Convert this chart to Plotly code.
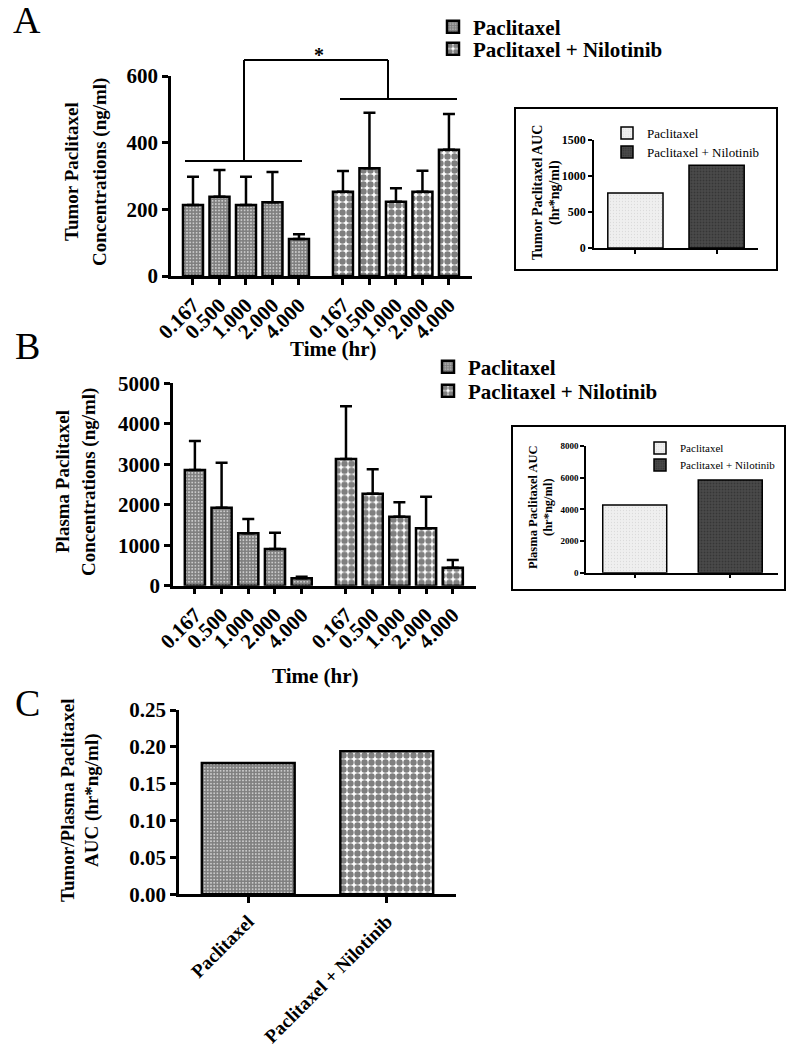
import plotly.graph_objects as go

W, H = 786, 1049
FONT = "Liberation Serif"

# ---------------- data ----------------
TIMES = ["0.167", "0.500", "1.000", "2.000", "4.000"]
GROUPS = ["Paclitaxel", "Paclitaxel + Nilotinib"]

A_PAC_MEAN = [213, 238, 213, 221, 111]
A_PAC_SD = [85, 80, 85, 91, 14]
A_NIL_MEAN = [253, 323, 223, 253, 379]
A_NIL_SD = [62, 167, 40, 63, 107]

B_PAC_MEAN = [2857, 1926, 1294, 906, 183]
B_PAC_SD = [716, 1111, 353, 403, 39]
B_NIL_MEAN = [3128, 2272, 1704, 1417, 444]
B_NIL_SD = [1302, 602, 355, 781, 191]

TUMOR_AUC = [765, 1150]
PLASMA_AUC = [4275, 5853]
RATIO_AUC = [0.178, 0.194]

A_YTICKS = [0, 200, 400, 600]
B_YTICKS = [0, 1000, 2000, 3000, 4000, 5000]
TA_YTICKS = [0, 500, 1000, 1500]
PA_YTICKS = [0, 2000, 4000, 6000, 8000]
C_YTICKS = [0.0, 0.05, 0.10, 0.15, 0.20, 0.25]
C_YTEXT = ["0.00", "0.05", "0.10", "0.15", "0.20", "0.25"]

# ---------------- layout helpers ----------------
GROUP_OFFSET = 5.66
BARW = 0.755


def fx(px):
    return px / W


def fy(py):
    return 1 - py / H


pos_pac = [i for i in range(len(TIMES))]
pos_nil = [i + GROUP_OFFSET for i in range(len(TIMES))]
time_pos = pos_pac + pos_nil
time_text = TIMES + TIMES
grp_pos = list(range(len(GROUPS)))

FINE = dict(shape=".", size=3.2, solidity=0.8, fgcolor="black", bgcolor="white")
COARSE = dict(shape=".", size=7, solidity=0.65, fgcolor="black", bgcolor="white")
LIGHT = dict(shape=".", size=3, solidity=0.15, fgcolor="#c8c8c8", bgcolor="#efefef")
DARK = dict(shape=".", size=3, solidity=0.3, fgcolor="#222222", bgcolor="#4a4a4a")

LINE = dict(color="black", width=2.5)


def err(sd):
    return dict(type="data", array=sd, arrayminus=[0] * len(sd), symmetric=False,
                color="black", thickness=2.5, width=6)


fig = go.Figure()

# Panel A
fig.add_trace(go.Bar(x=pos_pac, y=A_PAC_MEAN, width=BARW, name=GROUPS[0],
                     marker=dict(color="white", line=LINE, pattern=FINE),
                     error_y=err(A_PAC_SD), xaxis="x", yaxis="y", legend="legend"))
fig.add_trace(go.Bar(x=pos_nil, y=A_NIL_MEAN, width=BARW, name=GROUPS[1],
                     marker=dict(color="white", line=LINE, pattern=COARSE),
                     error_y=err(A_NIL_SD), xaxis="x", yaxis="y", legend="legend2"))
# Inset A
fig.add_trace(go.Bar(x=[grp_pos[0]], y=[TUMOR_AUC[0]], width=0.68, name=GROUPS[0],
                     marker=dict(color="#efefef", line=dict(color="black", width=1.5), pattern=LIGHT),
                     xaxis="x2", yaxis="y2", legend="legend5"))
fig.add_trace(go.Bar(x=[grp_pos[1]], y=[TUMOR_AUC[1]], width=0.68, name=GROUPS[1],
                     marker=dict(color="#4a4a4a", line=dict(color="black", width=1.5), pattern=DARK),
                     xaxis="x2", yaxis="y2", legend="legend6"))
# Panel B
fig.add_trace(go.Bar(x=pos_pac, y=B_PAC_MEAN, width=BARW, name=GROUPS[0],
                     marker=dict(color="white", line=LINE, pattern=FINE),
                     error_y=err(B_PAC_SD), xaxis="x3", yaxis="y3", legend="legend3"))
fig.add_trace(go.Bar(x=pos_nil, y=B_NIL_MEAN, width=BARW, name=GROUPS[1],
                     marker=dict(color="white", line=LINE, pattern=COARSE),
                     error_y=err(B_NIL_SD), xaxis="x3", yaxis="y3", legend="legend4"))
# Inset B
fig.add_trace(go.Bar(x=[grp_pos[0]], y=[PLASMA_AUC[0]], width=0.67, name=GROUPS[0],
                     marker=dict(color="#efefef", line=dict(color="black", width=1.5), pattern=LIGHT),
                     xaxis="x4", yaxis="y4", legend="legend7"))
fig.add_trace(go.Bar(x=[grp_pos[1]], y=[PLASMA_AUC[1]], width=0.67, name=GROUPS[1],
                     marker=dict(color="#4a4a4a", line=dict(color="black", width=1.5), pattern=DARK),
                     xaxis="x4", yaxis="y4", legend="legend8"))
# Panel C
fig.add_trace(go.Bar(x=[grp_pos[0]], y=[RATIO_AUC[0]], width=0.67, name=GROUPS[0],
                     marker=dict(color="white", line=LINE, pattern=FINE),
                     xaxis="x5", yaxis="y5", showlegend=False))
fig.add_trace(go.Bar(x=[grp_pos[1]], y=[RATIO_AUC[1]], width=0.67, name=GROUPS[1],
                     marker=dict(color="white", line=LINE, pattern=COARSE),
                     xaxis="x5", yaxis="y5", showlegend=False))


def main_ax(**kw):
    d = dict(showline=True, linecolor="black", linewidth=2.5, ticks="outside",
             ticklen=6, tickwidth=2.5, tickcolor="black", showgrid=False, zeroline=False,
             tickfont=dict(family=FONT, size=21, color="black", weight="bold"), fixedrange=True)
    d.update(kw)
    return d


def inset_ax(**kw):
    d = dict(showline=True, linecolor="black", linewidth=1.5, ticks="outside",
             ticklen=4, tickwidth=1.5, tickcolor="black", showgrid=False, zeroline=False,
             tickfont=dict(family=FONT, size=12, color="black", weight="bold"), fixedrange=True)
    d.update(kw)
    return d


layout = dict(
    width=W, height=H, autosize=False,
    margin=dict(l=0, r=0, t=0, b=0, autoexpand=False),
    paper_bgcolor="white", plot_bgcolor="white",
    barmode="overlay",
    font=dict(family=FONT, color="black"),
    xaxis=main_ax(domain=[fx(171), fx(472)], range=[-0.83, 10.53], tickvals=time_pos,
                  ticktext=time_text, tickangle=-45, anchor="y"),
    yaxis=main_ax(domain=[fy(276), fy(76)], range=[0, 600], tickvals=A_YTICKS, anchor="x"),
    xaxis2=inset_ax(domain=[fx(594), fx(758)], range=[-0.51, 1.51], tickvals=grp_pos,
                    showticklabels=False, anchor="y2"),
    yaxis2=inset_ax(domain=[fy(248), fy(140)], range=[0, 1500], tickvals=TA_YTICKS, anchor="x2"),
    xaxis3=main_ax(domain=[fx(173), fx(476)], range=[-0.82, 10.53], tickvals=time_pos,
                   ticktext=time_text, tickangle=-45, anchor="y3"),
    yaxis3=main_ax(domain=[fy(585.7), fy(383.3)], range=[0, 5000], tickvals=B_YTICKS, anchor="x3"),
    xaxis4=inset_ax(domain=[fx(586), fx(778)], range=[-0.51, 1.5], tickvals=grp_pos,
                    showticklabels=False, anchor="y4"),
    yaxis4=inset_ax(domain=[fy(572.7), fy(446)], range=[0, 8000], tickvals=PA_YTICKS, anchor="x4",
                    tickfont=dict(family=FONT, size=9, color="black", weight="bold")),
    xaxis5=main_ax(domain=[fx(179), fx(456)], range=[-0.5, 1.5], tickvals=grp_pos,
                   ticktext=GROUPS, tickangle=-45, anchor="y5",
                   tickfont=dict(family=FONT, size=19, color="black", weight="bold")),
    yaxis5=main_ax(domain=[fy(894.3), fy(710)], range=[0, 0.25], tickvals=C_YTICKS,
                   ticktext=C_YTEXT, anchor="x5"),
)


def leg(xpx, ypx, size, bold):
    return dict(x=fx(xpx), y=fy(ypx), xanchor="left", yanchor="middle",
                bgcolor="rgba(0,0,0,0)", borderwidth=0,
                font=dict(family=FONT, size=size, color="black", weight="bold" if bold else "normal"))


layout["legend"] = leg(433, 27, 21, True)
layout["legend2"] = leg(433, 49, 21, True)
layout["legend3"] = leg(428, 367, 21, True)
layout["legend4"] = leg(428, 391, 21, True)
layout["legend5"] = leg(607, 133, 13, False)
layout["legend6"] = leg(607, 152, 13, False)
layout["legend7"] = leg(640, 448, 11, False)
layout["legend8"] = leg(640, 465, 11, False)

fig.update_layout(**layout)


def ann(text, xpx, ypx, size, bold=True, angle=0):
    fig.add_annotation(text=text, x=fx(xpx), y=fy(ypx), xref="paper", yref="paper",
                       showarrow=False, textangle=angle, xanchor="center", yanchor="middle",
                       font=dict(family=FONT, size=size, color="black",
                                 weight="bold" if bold else "normal"))


# panel letters
ann("A", 27, 20, 38, bold=False)
ann("B", 27, 346, 38, bold=False)
ann("C", 27, 703, 38, bold=False)

# axis titles
ann("Tumor Paclitaxel", 72, 172, 19, angle=-90)
ann("Concentrations (ng/ml)", 100, 172, 19, angle=-90)
ann("Time (hr)", 333, 349, 21)
ann("Plasma Paclitaxel", 62, 482, 19, angle=-90)
ann("Concentrations (ng/ml)", 89, 482, 19, angle=-90)
ann("Time (hr)", 315, 676, 21)
ann("Tumor/Plasma Paclitaxel", 67, 800, 19, angle=-90)
ann("AUC (hr*ng/ml)", 92, 800, 19, angle=-90)
ann("Tumor Paclitaxel AUC", 537, 193, 14, angle=-90)
ann("(hr*ng/ml)", 555, 193, 14, angle=-90)
ann("Plasma Paclitaxel AUC", 533, 507, 12.5, angle=-90)
ann("(hr*ng/ml)", 548, 507, 12.5, angle=-90)

# significance bracket (panel A)
ann("*", 319, 55, 20)


def seg(x0, y0, x1, y1, w=2):
    fig.add_shape(type="line", xref="paper", yref="paper", x0=fx(x0), y0=fy(y0),
                  x1=fx(x1), y1=fy(y1), line=dict(color="black", width=w))


seg(185, 161, 302, 161)
seg(340, 99, 457, 99)
seg(244, 161, 244, 60)
seg(388, 99, 388, 60)
seg(244, 60, 388, 60)

# inset frames
fig.add_shape(type="rect", xref="paper", yref="paper", x0=fx(515), y0=fy(270), x1=fx(777), y1=fy(108),
              line=dict(color="black", width=2))
fig.add_shape(type="rect", xref="paper", yref="paper", x0=fx(512), y0=fy(590), x1=fx(785), y1=fy(426),
              line=dict(color="black", width=2))

fig.write_html("out.html", config={"displayModeBar": False},
               post_script="document.body.style.margin='0';document.body.style.overflow='hidden';")
